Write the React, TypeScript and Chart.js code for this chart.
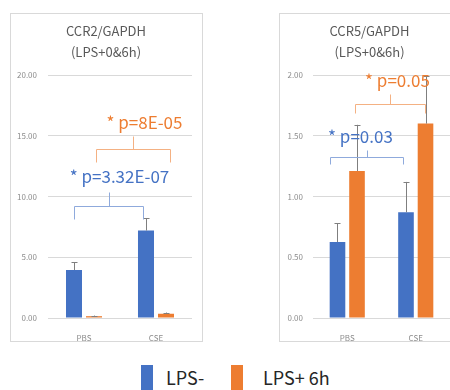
import React, { useEffect, useRef } from "react";
import { Chart, registerables } from "chart.js";

Chart.register(...registerables);

// ---------- data ----------
const categories = ["PBS", "CSE"];
const seriesNames = ["LPS-", "LPS+ 6h"];
const seriesColors = ["#4472C4", "#ED7D31"];

const ccr2Title = ["CCR2/GAPDH", "(LPS+0&6h)"];
const ccr2LpsNeg = [3.95, 7.2];
const ccr2LpsPos = [0.15, 0.35];
const ccr2ErrNeg = [0.62, 1.0];
const ccr2ErrPos = [0.05, 0.1];
const ccr2YMax = 20;
const ccr2YStep = 5;

const ccr5Title = ["CCR5/GAPDH", "(LPS+0&6h)"];
const ccr5LpsNeg = [0.625, 0.87];
const ccr5LpsPos = [1.21, 1.6];
const ccr5ErrNeg = [0.155, 0.25];
const ccr5ErrPos = [0.38, 0.39];
const ccr5YMax = 2;
const ccr5YStep = 0.5;

// significance brackets: text, series, [leg bottom, bar level, tick top, text level] (y units),
// [left leg, right leg, tick, text centre] (category units)
const ccr2PLabels = ["* p=3.32E-07", "* p=8E-05"];
const ccr2PSeries = [0, 1];
const ccr2PLevels = [
  [8.17, 9.18, 10.4, 11.7],
  [12.86, 13.93, 15.0, 16.15],
];
const ccr2PCats = [
  [-0.139, 0.819, 0.347, 0.486],
  [0.167, 1.194, 0.68, 0.84],
];

const ccr5PLabels = ["* p=0.03", "* p=0.05"];
const ccr5PSeries = [0, 1];
const ccr5PLevels = [
  [1.269, 1.327, 1.384, 1.5],
  [1.688, 1.762, 1.845, 1.96],
];
const ccr5PCats = [
  [-0.247, 0.816, 0.289, 0.187],
  [0.108, 1.142, 0.62, 0.732],
];

const FONT = "'Noto Sans CJK JP', 'Noto Sans', sans-serif";
const bracketColors = ["#8FAADC", "#F4B183"];

type Cfg = {
  title: string[];
  neg: number[];
  pos: number[];
  errNeg: number[];
  errPos: number[];
  yMax: number;
  yStep: number;
  pLabels: string[];
  pSeries: number[];
  pLevels: number[][];
  pCats: number[][];
  yWidth: number;
  yPad: number;
  rightGap: number;
  catPct: number;
};

function makeChart(canvas: HTMLCanvasElement, c: Cfg) {
  const errs = [c.errNeg, c.errPos];
  const overlay = {
    id: "overlay",
    afterDatasetsDraw(chart: any) {
      const ctx = chart.ctx;
      const ys = chart.scales.y;
      ctx.save();
      ctx.strokeStyle = "#7F7F7F";
      ctx.lineWidth = 1;
      chart.data.datasets.forEach((ds: any, i: number) => {
        const meta = chart.getDatasetMeta(i);
        meta.data.forEach((el: any, j: number) => {
          const top = ys.getPixelForValue(ds.data[j] + errs[i][j]);
          const x = Math.round(el.x) + 0.5;
          ctx.beginPath();
          ctx.moveTo(x, el.y);
          ctx.lineTo(x, top);
          ctx.moveTo(x - 3, Math.round(top) + 0.5);
          ctx.lineTo(x + 3, Math.round(top) + 0.5);
          ctx.stroke();
        });
      });
      ctx.restore();
    },
    afterDraw(chart: any) {
      const ctx = chart.ctx;
      const xs = chart.scales.x;
      const ys = chart.scales.y;
      ctx.save();
      c.pLabels.forEach((label, k) => {
        const s = c.pSeries[k];
        const lv = c.pLevels[k].map((v) => Math.round(ys.getPixelForValue(v)) + 0.5);
        const cx = c.pCats[k].map((v) => Math.round(xs.getPixelForValue(v)) + 0.5);
        ctx.strokeStyle = bracketColors[s];
        ctx.lineWidth = 1;
        ctx.beginPath();
        ctx.moveTo(cx[0], lv[0]);
        ctx.lineTo(cx[0], lv[1]);
        ctx.lineTo(cx[1], lv[1]);
        ctx.lineTo(cx[1], lv[0]);
        ctx.moveTo(cx[2], lv[1]);
        ctx.lineTo(cx[2], lv[2]);
        ctx.stroke();
        ctx.fillStyle = seriesColors[s];
        ctx.font = `17px ${FONT}`;
        ctx.textAlign = "center";
        ctx.textBaseline = "middle";
        ctx.fillText(label, cx[3], lv[3]);
      });
      ctx.restore();
    },
  };

  return new Chart(canvas, {
    type: "bar",
    data: {
      labels: categories,
      datasets: [c.neg, c.pos].map((d, i) => ({
        label: seriesNames[i],
        data: d,
        backgroundColor: seriesColors[i],
        barPercentage: 0.8,
        categoryPercentage: c.catPct,
      })),
    },
    options: {
      animation: false,
      responsive: false,
      maintainAspectRatio: false,
      layout: { padding: 0 },
      plugins: {
        legend: { display: false },
        tooltip: { enabled: false },
        title: {
          display: true,
          text: c.title,
          color: "#595959",
          font: { size: 13, family: FONT, weight: "normal", lineHeight: 1.6 },
          padding: { top: 8, bottom: 12.4 },
        },
      },
      scales: {
        x: {
          grid: { display: false },
          border: { display: false },
          ticks: { color: "#8C8C8C", font: { size: 8, family: FONT }, padding: 7 },
          afterFit(s: any) {
            s.height = 23;
          },
        },
        y: {
          min: 0,
          max: c.yMax,
          grid: { color: "#D9D9D9", drawTicks: false },
          border: { display: false },
          ticks: {
            stepSize: c.yStep,
            color: "#8C8C8C",
            font: { size: 8, family: FONT },
            padding: c.yPad,
            callback: (v: any) => Number(v).toFixed(2),
          },
          afterFit(s: any) {
            s.width = c.yWidth;
          },
        },
        gap: {
          type: "linear",
          position: "right",
          grid: { display: false },
          border: { display: false },
          ticks: { display: false },
          afterFit(s: any) {
            s.width = c.rightGap;
          },
        },
      },
    },
    plugins: [overlay],
  } as any);
}

function Panel(props: { cfg: Cfg; left: number; width: number }) {
  const ref = useRef<HTMLCanvasElement>(null);
  useEffect(() => {
    const chart = makeChart(ref.current!, props.cfg);
    return () => chart.destroy();
  }, []);
  return (
    <canvas
      ref={ref}
      width={props.width}
      height={328}
      style={{ position: "absolute", left: props.left, top: 13, width: props.width, height: 328 }}
    />
  );
}

const ccr2Cfg: Cfg = {
  title: ccr2Title,
  neg: ccr2LpsNeg,
  pos: ccr2LpsPos,
  errNeg: ccr2ErrNeg,
  errPos: ccr2ErrPos,
  yMax: ccr2YMax,
  yStep: ccr2YStep,
  pLabels: ccr2PLabels,
  pSeries: ccr2PSeries,
  pLevels: ccr2PLevels,
  pCats: ccr2PCats,
  yWidth: 38,
  yPad: 11,
  rightGap: 10,
  catPct: 0.556,
};

const ccr5Cfg: Cfg = {
  title: ccr5Title,
  neg: ccr5LpsNeg,
  pos: ccr5LpsPos,
  errNeg: ccr5ErrNeg,
  errPos: ccr5ErrPos,
  yMax: ccr5YMax,
  yStep: ccr5YStep,
  pLabels: ccr5PLabels,
  pSeries: ccr5PSeries,
  pLevels: ccr5PLevels,
  pCats: ccr5PCats,
  yWidth: 34,
  yPad: 10,
  rightGap: 10,
  catPct: 0.57,
};

export default function App() {
  const frame = { position: "absolute" as const, top: 13, height: 329, border: "1px solid #D9D9D9", boxSizing: "border-box" as const };
  const legendText = { position: "absolute" as const, top: 366, fontFamily: FONT, fontSize: 18, lineHeight: "22px", color: "#262626" };
  return (
    <div style={{ position: "absolute", left: 0, top: 0, width: 450, height: 390, overflow: "hidden", background: "#fff" }}>
      <div style={{ ...frame, left: 10, width: 193 }} />
      <div style={{ ...frame, left: 279, width: 250 }} />
      <Panel cfg={ccr2Cfg} left={10} width={192} />
      <Panel cfg={ccr5Cfg} left={279} width={181} />
      <div style={{ position: "absolute", left: 141, top: 365, width: 12, height: 30, background: seriesColors[0] }} />
      <div style={{ ...legendText, left: 166 }}>{seriesNames[0]}</div>
      <div style={{ position: "absolute", left: 231, top: 365, width: 12, height: 30, background: seriesColors[1] }} />
      <div style={{ ...legendText, left: 263 }}>{seriesNames[1]}</div>
    </div>
  );
}
